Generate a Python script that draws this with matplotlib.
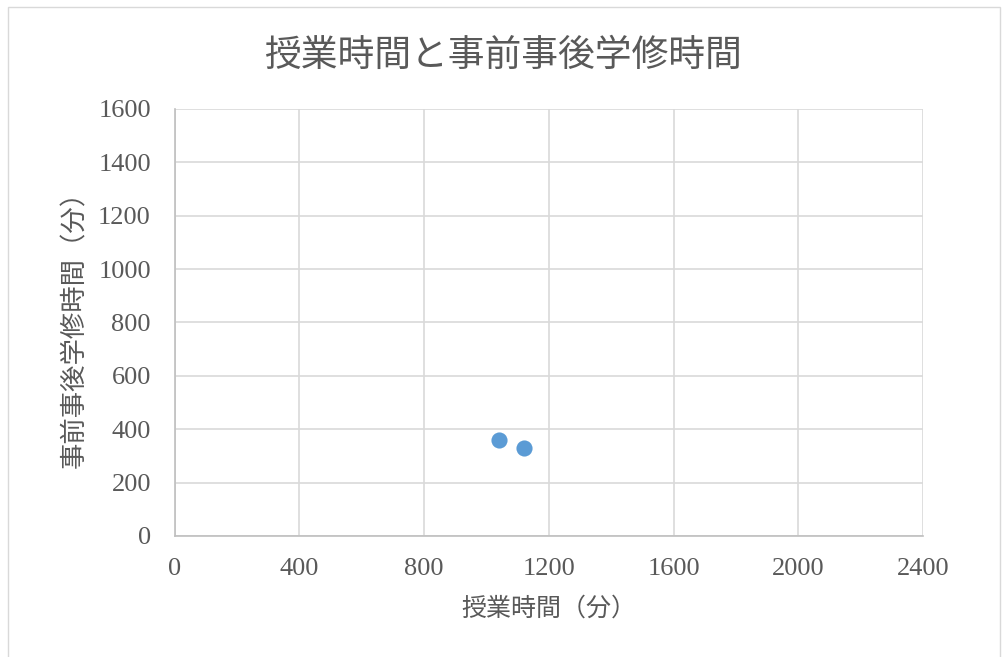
import matplotlib
matplotlib.use("Agg")
import matplotlib.pyplot as plt
from matplotlib.patches import Rectangle

# データ
jugyo = [1040, 1120]          # 授業時間（分）
gakushu = [360, 330]          # 事前事後学修時間（分）
x_ticks = [0, 400, 800, 1200, 1600, 2000, 2400]
y_ticks = [0, 200, 400, 600, 800, 1000, 1200, 1400, 1600]

title = "授業時間と事前事後学修時間"
x_label = "授業時間（分）"
y_label = "事前事後学修時間（分）"

plt.rcParams['font.family'] = ['Liberation Serif', 'Noto Sans CJK JP', 'DejaVu Sans']
gray_text = "#595959"

fig = plt.figure(figsize=(10.07, 6.57), dpi=100)
fig.patches.append(Rectangle((0.008, -0.02), 0.985, 1.01, transform=fig.transFigure,
                             fill=False, edgecolor="#d9d9d9", linewidth=1.0))

ax = fig.add_axes([0.1733, 0.1842, 0.7433, 0.6500])
ax.scatter(jugyo, gakushu, s=135, color="#5b9bd5", zorder=3, linewidths=0)

ax.set_xlim(0, 2400)
ax.set_ylim(0, 1600)
ax.set_xticks(x_ticks)
ax.set_yticks(y_ticks)
ax.grid(True, color="#d9d9d9", linewidth=1.2)
ax.set_axisbelow(True)
for side in ["top", "right"]:
    ax.spines[side].set_visible(False)
for side in ["left", "bottom"]:
    ax.spines[side].set_color("#bfbfbf")
    ax.spines[side].set_linewidth(1.2)
ax.tick_params(length=0, labelsize=19, colors=gray_text)
ax.tick_params(axis="x", pad=16)
ax.tick_params(axis="y", pad=17)

ax.set_xlabel(x_label, fontsize=18, color=gray_text, labelpad=12)
ax.set_ylabel(y_label, fontsize=19, color=gray_text, labelpad=8)
fig.text(0.5, 0.913, title, ha="center", va="center", fontsize=26.5, color=gray_text)

fig.savefig("out.png", dpi=100)
